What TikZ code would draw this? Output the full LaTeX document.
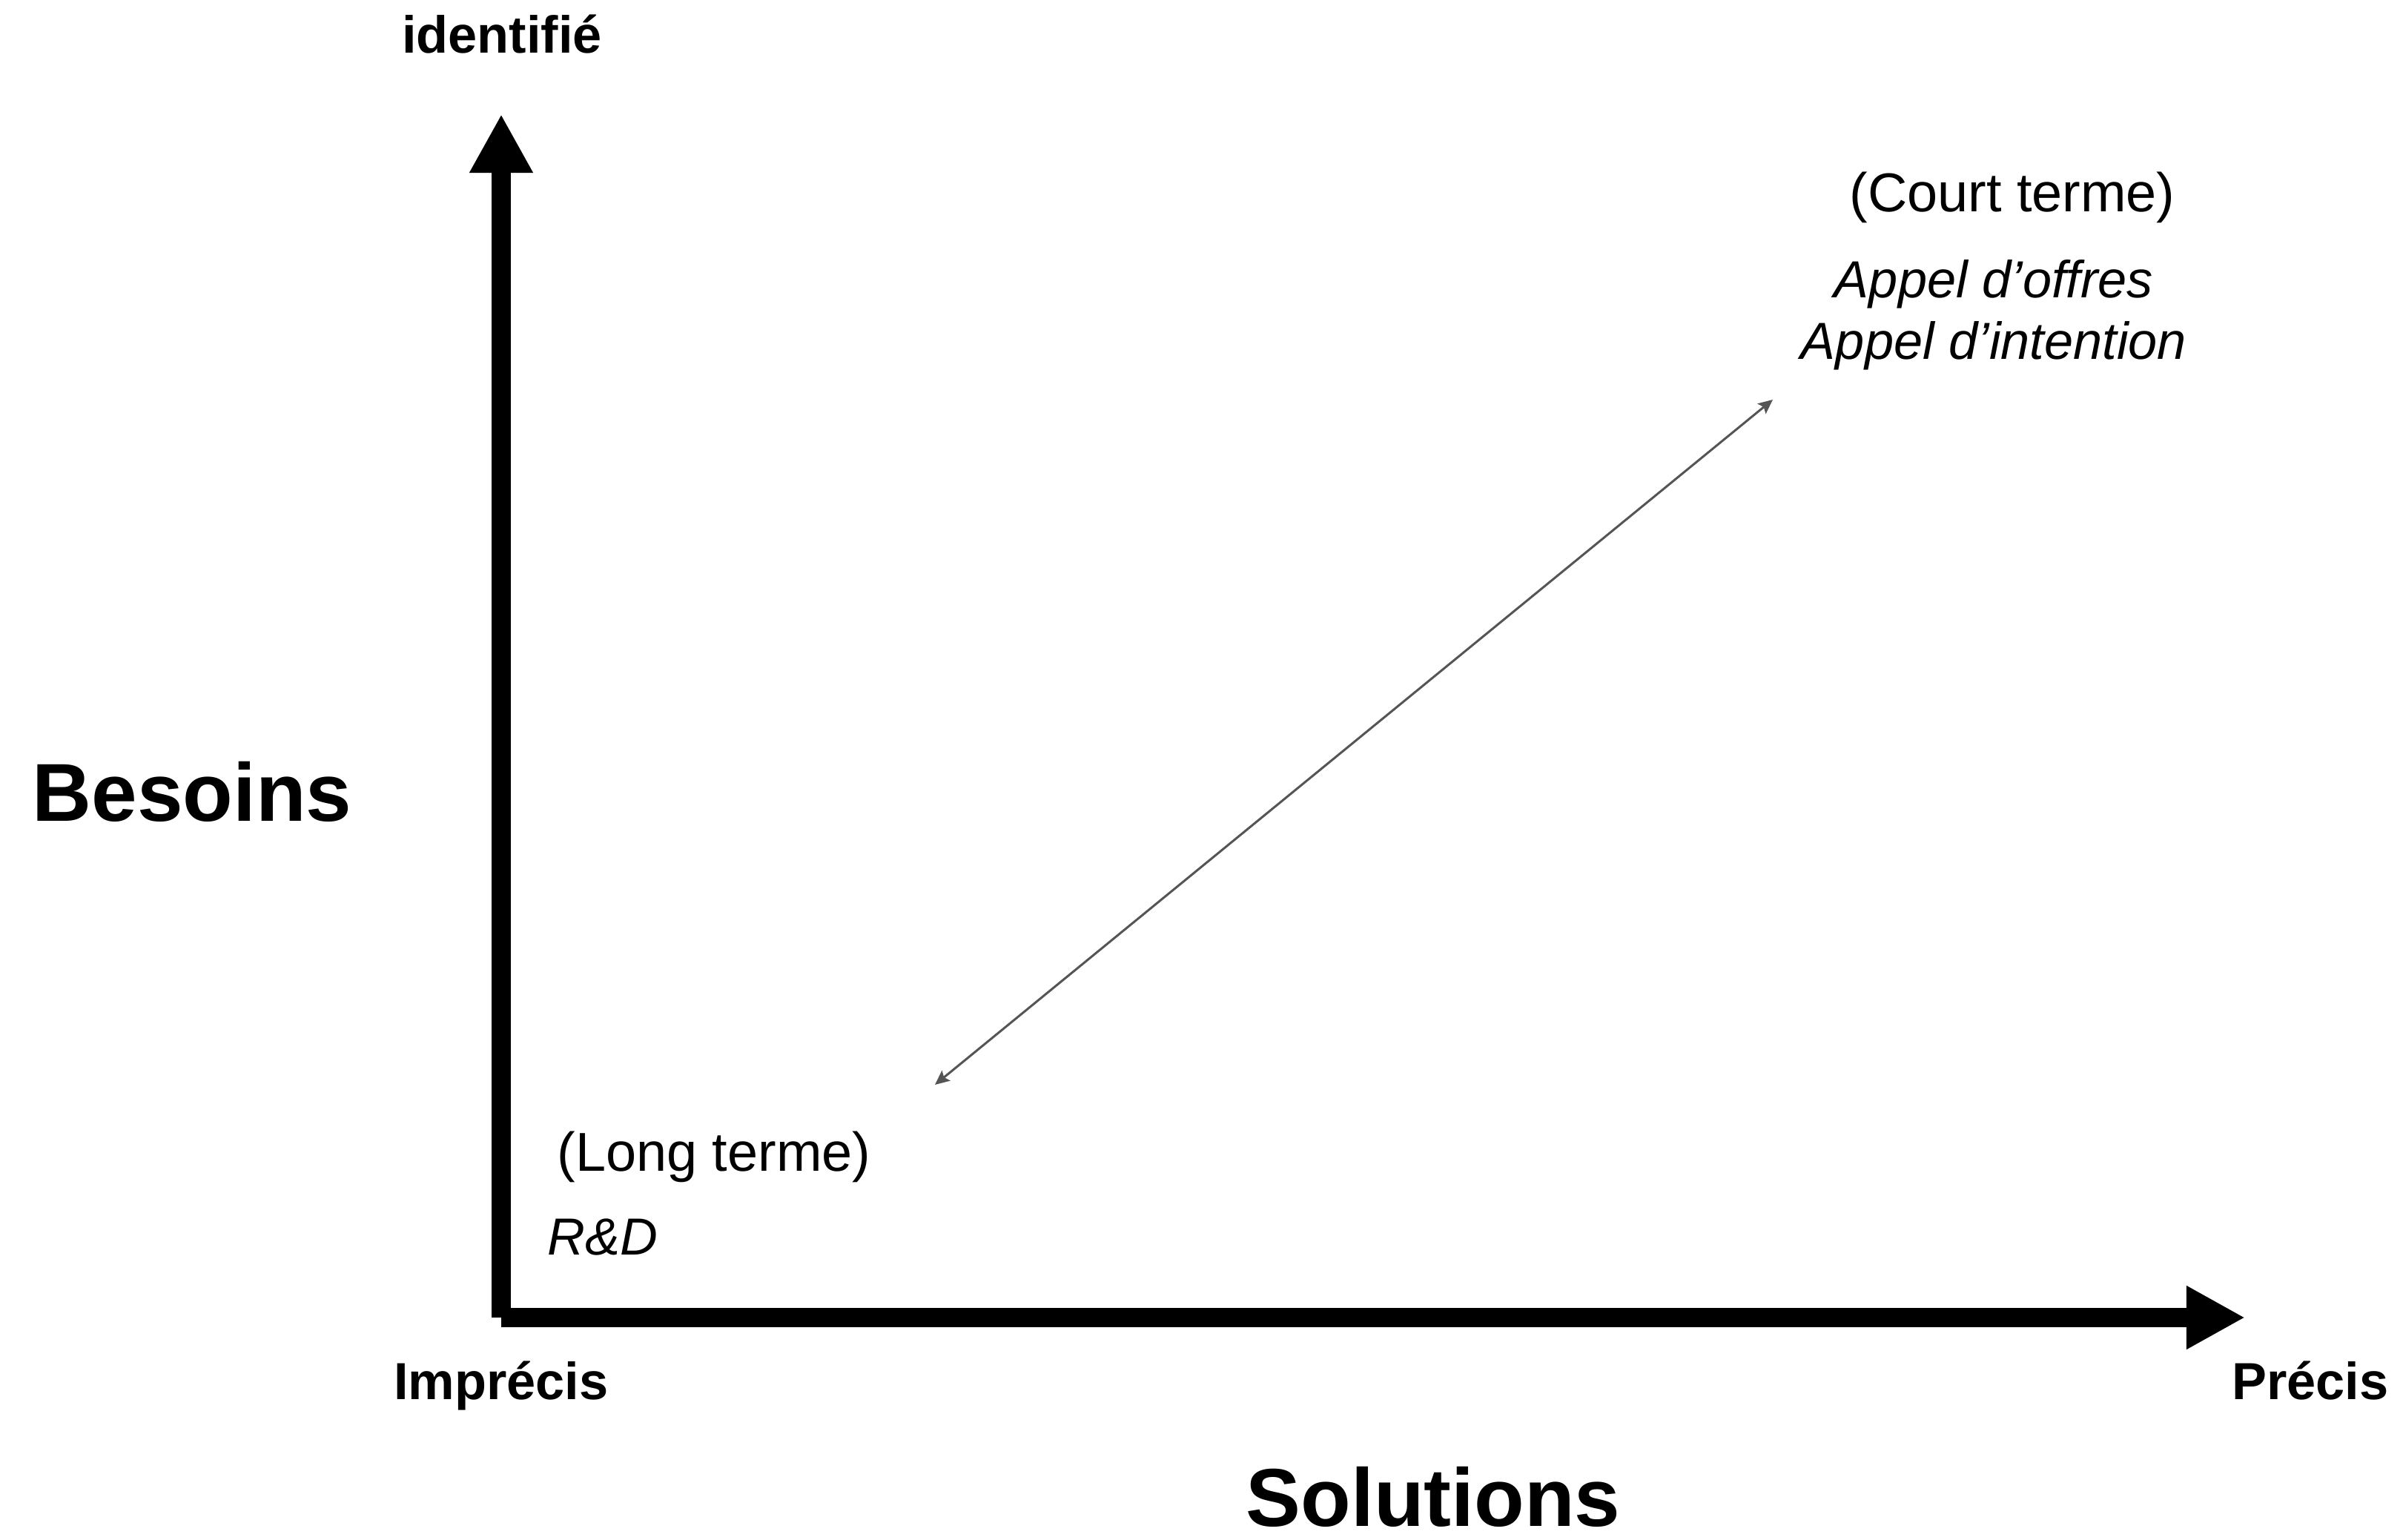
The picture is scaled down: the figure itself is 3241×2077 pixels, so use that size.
\documentclass[tikz,border=0pt]{standalone}
\usepackage{fontspec}
\setmainfont{Liberation Sans}[Ligatures=CommonOff]
\usetikzlibrary{positioning,arrows.meta}
\definecolor{spangray}{HTML}{555555}

\begin{document}
\begin{tikzpicture}[
  x = 0.01cm,
  y = -0.01cm,
  axis/.style = {
    line width = 0.26cm,
    line cap = butt,
    -{Triangle[length=0.79cm, width=0.80cm]},
  },
  span/.style = {
    draw = spangray,
    line width = 0.85pt,
    <->,
  },
  ends/.style = {
    anchor = base,
    inner sep = 0pt,
    font = \bfseries\fontsize{20}{24}\selectfont,
  },
  title/.style = {
    anchor = base,
    inner sep = 0pt,
    font = \bfseries\fontsize{31.5}{38}\selectfont,
  },
  term/.style = {
    anchor = base,
    inner sep = 0pt,
    font = \fontsize{21}{25}\selectfont,
  },
  mode/.style = {
    anchor = base,
    inner sep = 0pt,
    font = \itshape\fontsize{20}{24}\selectfont,
  },
  >={Stealth[length=5.5pt, width=5pt, inset=1pt]},
]

  \useasboundingbox (0,0) rectangle (3241,2077);

  % axes
  \coordinate (origin) at (676,1777);
  \coordinate (ytip) at (676,154);
  \coordinate (xtip) at (3028,1777);
  \draw[axis] (origin) -- (ytip);
  \draw[axis] (origin) -- (xtip);

  \node[ends] (identifie) at (677,72) {identifié};
  \node[ends] (imprecis) at (676,1887) {Imprécis};
  \node[ends] (precis) at (3116,1887) {Précis};
  \node[title] (besoins) at (259,1108) {Besoins};
  \node[title] (solutions) at (1933,2058) {Solutions};

  % horizons
  \node[term] (court) at (2714,286) {(Court terme)};
  \node[mode] (offres) at (2689,402) {Appel d’offres};
  \node[mode] (intention) at (2689,485) {Appel d’intention};
  \node[term] (long) at (963,1580) {(Long terme)};
  \node[mode, anchor=base west] (rd) at (738,1693) {R\&D};

  \coordinate (lowend) at (1261,1463);
  \coordinate (highend) at (2391,539);
  \draw[span] (lowend) -- (highend);

\end{tikzpicture}
\end{document}
